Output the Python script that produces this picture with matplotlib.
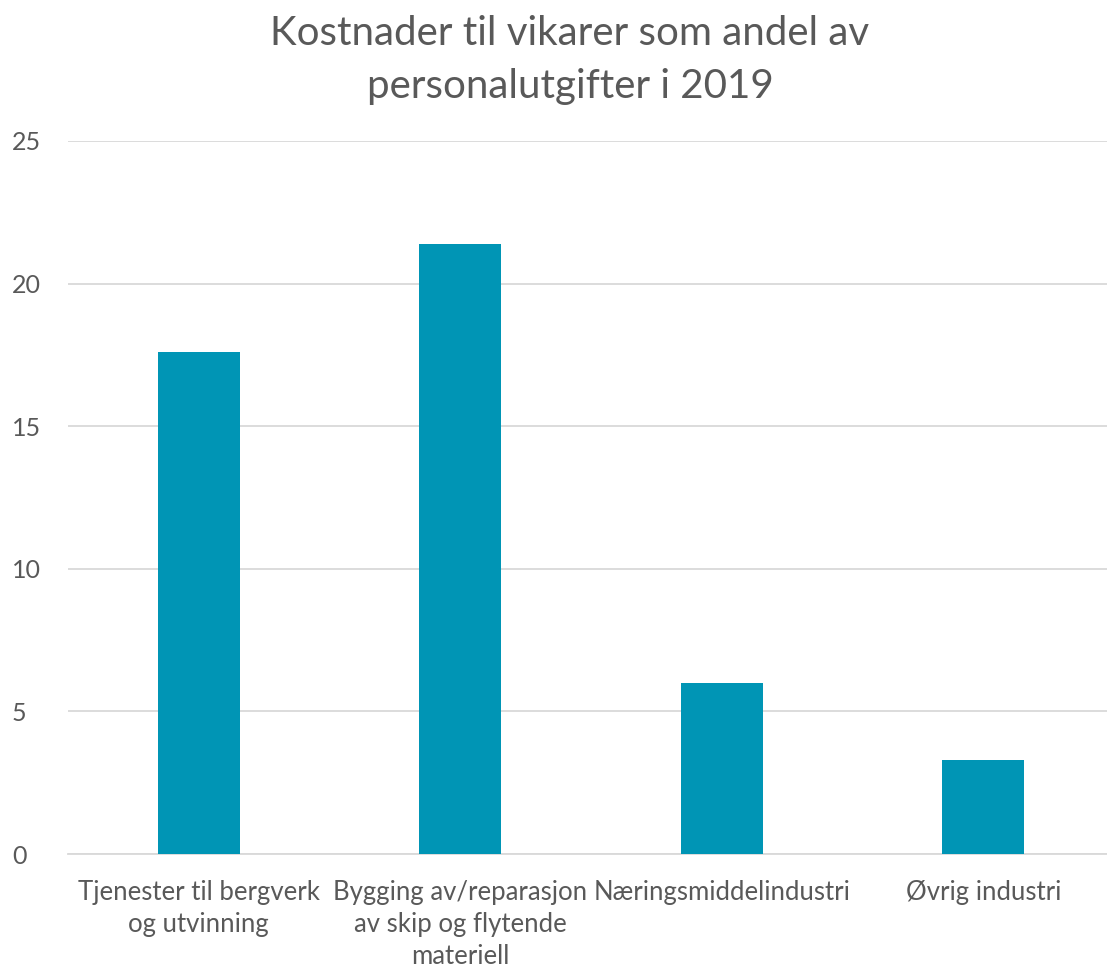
import matplotlib
matplotlib.use("Agg")
import matplotlib.pyplot as plt
import matplotlib.transforms as mtransforms

categories = ["Tjenester til bergverk\nog utvinning",
              "Bygging av/reparasjon\nav skip og flytende\nmateriell",
              "Næringsmiddelindustri",
              "Øvrig industri"]
values = [17.6, 21.4, 6.0, 3.3]
yticks = [0, 5, 10, 15, 20, 25]
title = "Kostnader til vikarer som andel av\npersonalutgifter i 2019"

plt.rcParams['font.family'] = ['Lato', 'DejaVu Sans']
text_color = "#595959"
grid_color = "#D9D9D9"
bar_color = "#0095B5"

fig = plt.figure(figsize=(11.07, 9.68), dpi=100)
ax = fig.add_axes([68/1107, 114/968, 1046/1107, 713/968])
x = range(len(categories))
ax.bar(x, values, width=0.315, color=bar_color, zorder=3)
ax.set_xlim(-0.5, len(categories) - 0.5)
ax.set_ylim(0, 25)
ax.set_yticks(yticks)
ax.set_yticklabels([str(t) for t in yticks])
ax.set_xticks(list(x))
ax.set_xticklabels(categories, linespacing=1.33)
ax.yaxis.grid(True, color=grid_color, linewidth=1.3, zorder=0)
for s in ["top", "right", "left"]:
    ax.spines[s].set_visible(False)
ax.spines["bottom"].set_color(grid_color)
ax.spines["bottom"].set_linewidth(1.3)
ax.tick_params(axis="y", length=0, pad=0, labelsize=18, labelcolor=text_color)
ax.tick_params(axis="x", length=0, pad=19, labelsize=18.5, labelcolor=text_color)
offset = mtransforms.ScaledTranslation(-56/100, 0, fig.dpi_scale_trans)
for lbl in ax.get_yticklabels():
    lbl.set_horizontalalignment("left")
    lbl.set_transform(lbl.get_transform() + offset)

fig.text(570/1107, 1 - 60/968, title, ha="center", va="center",
         fontsize=29, color=text_color, linespacing=1.55)
fig.savefig("out.png", dpi=100, facecolor="white")
